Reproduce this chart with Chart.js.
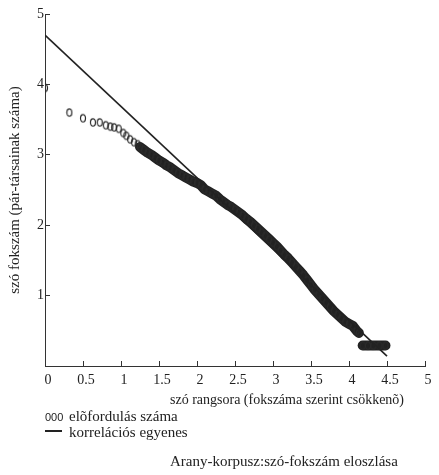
<!DOCTYPE html>
<html lang="hu">
<head>
<meta charset="utf-8">
<title>Arany-korpusz</title>
<script src="https://cdn.jsdelivr.net/npm/chart.js@4.4.1/dist/chart.umd.min.js"></script>
<style>
  html, body { margin: 0; padding: 0; background: #fff; }
  #wrap {
    position: relative; width: 439px; height: 475px; overflow: hidden;
    font-family: 'Liberation Serif', 'Times New Roman', serif; color: #222;
  }
  #chart { position: absolute; left: 0; top: 0; }
  .txt { position: absolute; font-size: 15px; line-height: 16px; white-space: nowrap; }
  .sym-dots { position: absolute; left: 45px; font-family: 'Liberation Sans', Arial, sans-serif; font-size: 11px; line-height: 12px; }
  .sym-line { position: absolute; left: 45px; width: 17px; height: 2px; background: #222; }
</style>
</head>
<body>
<div id="wrap">
  <canvas id="chart" width="439" height="395"></canvas>
  <div class="txt" style="left:170px; top:392px; font-size:14px;">szó rangsora (fokszáma szerint csökkenõ)</div>
  <div class="sym-dots" style="top:411px;">000</div>
  <div class="txt" style="left:69px; top:408px;">elõfordulás száma</div>
  <div class="sym-line" style="top:430px;"></div>
  <div class="txt" style="left:69px; top:424px;">korrelációs egyenes</div>
  <div class="txt" style="left:170px; top:453px;">Arany-korpusz:szó-fokszám eloszlása</div>
</div>
<script>
// log10 rangsor és log10 fokszám (null = szakadás a sávban)
const rankLog = [
  0.00, 0.32, 0.50, 0.63, 0.72, 0.80, 0.86, 0.91, 0.97, 1.03, 1.07, 1.12, 1.17, 1.22,
  1.25, 1.30, 1.35, 1.40, 1.45, 1.50, 1.55, 1.60, 1.65, 1.70, 1.75, 1.80, 1.85, 1.90, 1.95,
  2.00, 2.05, 2.10, 2.15, 2.20, 2.25, 2.30, 2.35, 2.40, 2.45, 2.50, 2.55, 2.60, 2.65, 2.70,
  2.75, 2.80, 2.85, 2.90, 2.95, 3.00, 3.05, 3.10, 3.15, 3.20, 3.25, 3.30, 3.35, 3.40, 3.45,
  3.50, 3.55, 3.60, 3.65, 3.70, 3.75, 3.80, 3.85, 3.90, 3.95, 4.00, 4.05, 4.10, 4.13,
  4.15, 4.18, 4.25, 4.32, 4.40, 4.48
];
const degreeLog = [
  3.95, 3.60, 3.52, 3.46, 3.46, 3.42, 3.40, 3.39, 3.37, 3.31, 3.27, 3.22, 3.18, 3.15,
  3.11, 3.07, 3.03, 3.00, 2.96, 2.92, 2.89, 2.85, 2.82, 2.78, 2.74, 2.71, 2.68, 2.65, 2.62,
  2.60, 2.57, 2.51, 2.48, 2.45, 2.42, 2.37, 2.33, 2.29, 2.26, 2.22, 2.18, 2.14, 2.09, 2.05,
  2.00, 1.95, 1.90, 1.85, 1.80, 1.75, 1.70, 1.64, 1.58, 1.53, 1.47, 1.41, 1.35, 1.29, 1.22,
  1.15, 1.08, 1.02, 0.96, 0.90, 0.84, 0.78, 0.73, 0.68, 0.63, 0.60, 0.57, 0.50, 0.47,
  null, 0.29, 0.29, 0.29, 0.29, 0.29
];

// korrelációs egyenes két végpontja
const fitX = [0, 4.5];
const fitY = [4.70, 0.14];

const xTickValues = [0, 0.5, 1, 1.5, 2, 2.5, 3, 3.5, 4, 4.5, 5];
const yTickValues = [1, 2, 3, 4, 5];

const ink = '#222';
const bandFrom = 1.25;   // innen már összefüggő sáv

// kis álló ellipszis ("0" alakú) jelölő
function makeOval() {
  const c = document.createElement('canvas');
  c.width = 8; c.height = 11;
  const g = c.getContext('2d');
  g.strokeStyle = '#2b2b2b';
  g.lineWidth = 1.2;
  g.beginPath();
  g.ellipse(4, 5.5, 2.5, 3.7, 0, 0, Math.PI * 2);
  g.stroke();
  return c;
}

const points = rankLog.map((x, i) => ({ x: x, y: degreeLog[i] }));
const fitLine = fitX.map((x, i) => ({ x: x, y: fitY[i] }));

const axisFont = { family: "'Liberation Serif', serif", size: 14 };

// a tengelyfeliratok ne tolják be a rajzterületet
function fixPadding(s) {
  s.paddingLeft = 0; s.paddingRight = 0; s.paddingTop = 0; s.paddingBottom = 0;
}

new Chart(document.getElementById('chart'), {
  type: 'scatter',
  data: {
    datasets: [
      {
        label: 'korrelációs egyenes',
        data: fitLine,
        showLine: true,
        borderColor: ink,
        borderWidth: 1.6,
        pointRadius: 0
      },
      {
        label: 'elõfordulás száma',
        data: points,
        showLine: true,
        spanGaps: false,
        borderWidth: 10,
        borderColor: ink,
        borderCapStyle: 'round',
        borderJoinStyle: 'round',
        segment: {
          borderColor: ctx => ctx.p0.parsed.x < bandFrom ? 'rgba(0,0,0,0)' : ink
        },
        pointStyle: makeOval()
      }
    ]
  },
  options: {
    responsive: false,
    animation: false,
    devicePixelRatio: 1,
    layout: { padding: { top: 10, right: 10, left: 0, bottom: 0 } },
    plugins: { legend: { display: false }, tooltip: { enabled: false } },
    scales: {
      x: {
        type: 'linear', min: 0, max: 5,
        afterBuildTicks: s => { s.ticks = xTickValues.map(v => ({ value: v })); },
        afterFit: s => { s.height = 29; fixPadding(s); },
        grid: { drawOnChartArea: false, drawTicks: true, tickLength: -5, color: '#333' },
        border: { color: '#333', width: 1 },
        ticks: {
          font: axisFont, color: ink, padding: 11, labelOffset: 3,
          maxRotation: 0, autoSkip: false,
          callback: v => String(v)
        }
      },
      y: {
        type: 'linear', min: 0, max: 5,
        afterBuildTicks: s => { s.ticks = yTickValues.map(v => ({ value: v })); },
        afterFit: s => { s.width = 45; fixPadding(s); },
        grid: { drawOnChartArea: false, drawTicks: true, tickLength: -5, color: '#333' },
        border: { color: '#333', width: 1 },
        ticks: { font: axisFont, color: ink, padding: 6, callback: v => String(v) },
        title: {
          display: true,
          text: 'szó fokszám (pár-társainak száma)',
          font: { family: "'Liberation Serif', serif", size: 15 },
          color: ink,
          padding: { top: 6, bottom: 0 }
        }
      }
    }
  }
});
</script>
</body>
</html>
